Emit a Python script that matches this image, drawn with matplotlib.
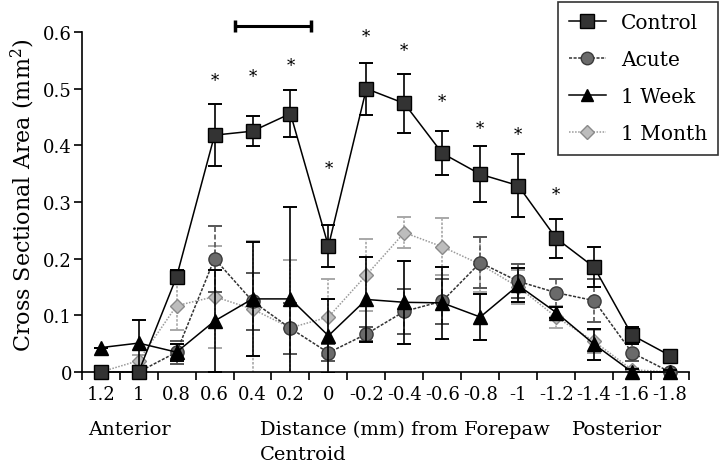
import matplotlib
matplotlib.use("Agg")
import matplotlib.pyplot as plt
from matplotlib.lines import Line2D
import numpy as np

# ---------------- data ----------------
categories = ['1.2', '1', '0.8', '0.6', '0.4', '0.2', '0', '-0.2', '-0.4',
              '-0.6', '-0.8', '-1', '-1.2', '-1.4', '-1.6', '-1.8']

control = [0.0, 0.0, 0.168, 0.418, 0.425, 0.456, 0.222, 0.500, 0.474,
           0.386, 0.349, 0.329, 0.236, 0.185, 0.065, 0.029]
control_err = [0.0, 0.0, 0.012, 0.055, 0.026, 0.042, 0.037, 0.046, 0.052,
               0.039, 0.049, 0.055, 0.034, 0.035, 0.015, 0.008]

acute = [0.0, 0.0, 0.035, 0.200, 0.125, 0.077, 0.034, 0.067, 0.107,
         0.125, 0.193, 0.160, 0.140, 0.126, 0.034, 0.0]
acute_err = [0.0, 0.0, 0.020, 0.058, 0.050, 0.045, 0.015, 0.012, 0.040,
             0.040, 0.045, 0.030, 0.025, 0.038, 0.015, 0.003]

week = [0.043, 0.051, 0.035, 0.090, 0.129, 0.129, 0.064, 0.128, 0.123,
        0.122, 0.097, 0.153, 0.105, 0.049, 0.0, 0.0]
week_err = [0.0, 0.040, 0.015, 0.090, 0.100, 0.163, 0.065, 0.075, 0.073,
            0.063, 0.040, 0.030, 0.010, 0.027, 0.005, 0.003]

month = [0.0, 0.020, 0.117, 0.133, 0.111, 0.078, 0.097, 0.171, 0.246,
         0.221, 0.190, 0.150, 0.097, 0.054, 0.004, 0.0]
month_err = [0.0, 0.010, 0.042, 0.090, 0.120, 0.120, 0.068, 0.063, 0.027,
             0.050, 0.048, 0.030, 0.020, 0.020, 0.003, 0.003]

# significance stars (category index, height)
star_idx = [3, 4, 5, 6, 7, 8, 9, 10, 11, 12]
star_y = [0.524, 0.530, 0.550, 0.368, 0.601, 0.576, 0.486, 0.439, 0.428, 0.323]

# scale bar (in category units / data units)
scale_x = [3.55, 5.55]
scale_y = 0.611

yticks = [0, 0.1, 0.2, 0.3, 0.4, 0.5, 0.6]
ytick_labels = ['0', '0.1', '0.2', '0.3', '0.4', '0.5', '0.6']

# ---------------- figure ----------------
plt.rcParams['font.family'] = ['DejaVu Serif']
plt.rcParams['mathtext.fontset'] = 'dejavuserif'

W, H = 720, 464
fig = plt.figure(figsize=(W / 100, H / 100), dpi=100)
ax = fig.add_axes([81.7 / W, 1 - 373 / H, (689 - 81.7) / W, (373 - 33) / H])

x = np.arange(len(categories))

def series(y, err, ls, color, marker, mfc, mec, ms, ebls, ebcolor, z):
    ax.plot(x, y, linestyle=ls, color=color, lw=1.1, zorder=z, clip_on=False)
    eb = ax.errorbar(x, y, yerr=err, fmt='none', ecolor=ebcolor, elinewidth=1.2,
                     capsize=5, capthick=1.4, zorder=z - 0.5)
    for lc in eb[2]:
        lc.set_linestyle(ebls)
    ax.plot(x, y, linestyle='none', marker=marker, markerfacecolor=mfc,
            markeredgecolor=mec, markersize=ms, markeredgewidth=1.0,
            zorder=z + 0.5, clip_on=False)

series(month, month_err, (0, (1, 1)), '#9a9a9a', 'D', '#bdbdbd', '#8a8a8a', 7.5,
       (0, (1.5, 1)), '#a8a8a8', 2)
series(acute, acute_err, (0, (2, 1)), '#333333', 'o', '#6a6a6a', '#3a3a3a', 9.5,
       (0, (3, 1.5)), '#555555', 3)
series(week, week_err, '-', '#000000', '^', '#000000', '#000000', 9.5,
       '-', '#000000', 4)
series(control, control_err, '-', '#000000', 's', '#333333', '#000000', 10.5,
       '-', '#000000', 5)

for i, yv in zip(star_idx, star_y):
    ax.annotate('*', (i, yv), xytext=(0, -7), textcoords='offset points',
                ha='center', va='baseline', fontsize=12, annotation_clip=False)

ax.plot(scale_x, [scale_y, scale_y], color='black', lw=2.2, clip_on=False,
        marker='|', markersize=9, markeredgewidth=2.5)

ax.set_xlim(-0.5, len(categories) - 0.5)
ax.set_ylim(0, 0.6)
ax.spines['top'].set_visible(False)
ax.spines['right'].set_visible(False)
for s in ['left', 'bottom']:
    ax.spines[s].set_linewidth(1.2)

ax.set_xticks(np.arange(len(categories) + 1) - 0.5)
ax.set_xticklabels([])
ax.set_xticks(x, minor=True)
ax.set_xticklabels(categories, minor=True, fontsize=13)
ax.tick_params(axis='x', which='major', direction='out', length=6, width=1.2)
ax.tick_params(axis='x', which='minor', length=0, pad=9)
ax.set_yticks(yticks)
ax.set_yticklabels(ytick_labels, fontsize=13)
ax.tick_params(axis='y', direction='out', length=6, width=1.2, pad=1)

def ftext(px, py, s, **kw):
    fig.text(px / W, 1 - py / H, s, **kw)

ftext(88, 435, 'Anterior', fontsize=14, va='baseline', ha='left')
ftext(260, 435, 'Distance (mm) from Forepaw', fontsize=14, va='baseline', ha='left')
ftext(260, 460, 'Centroid', fontsize=14, va='baseline', ha='left')
ftext(572, 435, 'Posterior', fontsize=14, va='baseline', ha='left')
ftext(23, 195, 'Cross Sectional Area (mm$^2$)', fontsize=16, rotation=90,
      ha='center', va='center')

handles = [
    Line2D([], [], color='black', lw=1.1, marker='s', markerfacecolor='#333333',
           markeredgecolor='black', markersize=10),
    Line2D([], [], color='#333333', lw=1.1, linestyle=(0, (2, 1)), marker='o',
           markerfacecolor='#6a6a6a', markeredgecolor='#3a3a3a', markersize=9),
    Line2D([], [], color='black', lw=1.1, marker='^', markerfacecolor='black',
           markeredgecolor='black', markersize=9),
    Line2D([], [], color='#9a9a9a', lw=1.1, linestyle=(0, (1, 1)), marker='D',
           markerfacecolor='#bdbdbd', markeredgecolor='#8a8a8a', markersize=7),
]
labels = ['Control', 'Acute', '1 Week', '1 Month']
leg = fig.legend(handles, labels, loc='upper right',
                 bbox_to_anchor=(718 / W, 1 - 3 / H), borderaxespad=0,
                 fontsize=14.5, frameon=True, fancybox=False, edgecolor='black',
                 handlelength=1.8, handletextpad=0.75, labelspacing=0.9,
                 borderpad=0.55)
leg.get_frame().set_linewidth(1.2)

fig.savefig('out.png', dpi=100)
